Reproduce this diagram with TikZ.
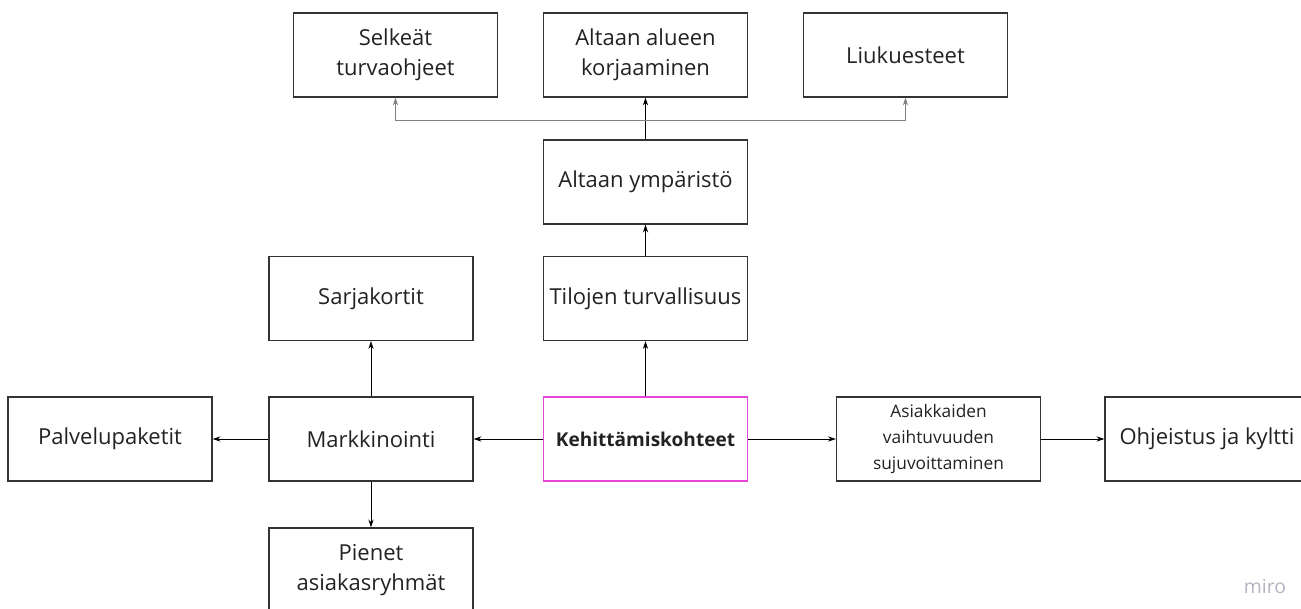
\documentclass[tikz,border=0pt]{standalone}
\usepackage{fontspec}
\setmainfont{Open Sans}
\usetikzlibrary{arrows.meta, positioning}
\definecolor{boxline}{HTML}{333333}
\definecolor{focusline}{HTML}{E645DC}
\definecolor{textgray}{HTML}{222222}
\definecolor{miromark}{HTML}{B4B4C0}

\begin{document}
\begin{tikzpicture}[
    x=0.75pt, y=-0.75pt,
    >={Stealth[length=6pt, width=4pt]},
    box/.style={draw=boxline, line width=0.9pt, minimum width=153pt,
      minimum height=63pt, align=center, text=textgray, inner sep=2pt,
      font=\fontsize{16.5}{22.5}\selectfont},
    link/.style={->, line width=0.6pt, draw=black}
  ]
  \useasboundingbox (0,0) rectangle (1301,609);
  \clip (0,0) rectangle (1301,609);

  % Top row
  \node[box] (selkeat) at (395.5,55) {Selkeät\\turvaohjeet};
  \node[box] (korjaus) at (645.5,55) {Altaan alueen\\korjaaminen};
  \node[box] (liuku) at (905.5,55) {Liukuesteet};

  % Safety branch
  \node[box] (ympar) at (645.5,182) {Altaan ympäristö};
  \node[box] (tilat) at (645.5,298.5) {Tilojen turvallisuus};

  % Marketing branch
  \node[box] (sarja) at (371,298.5) {Sarjakortit};
  \node[box] (markk) at (371,439) {Markkinointi};
  \node[box] (paketit) at (110,439) {Palvelupaketit};
  \node[box] (pienet) at (371,570) {Pienet\\asiakasryhmät};

  % Centre
  \node[box, draw=focusline, font=\fontsize{14.3}{17}\selectfont\bfseries] (kehitys) at (645.5,439) {Kehittämiskohteet};

  % Right branch
  \node[box, font=\fontsize{13}{19.5}\selectfont] (asiak) at (938.5,439) {Asiakkaiden\\vaihtuvuuden\\sujuvoittaminen};
  \node[box] (ohje) at (1207,439) {Ohjeistus ja kyltti};

  % Arrows
  \draw[link] (kehitys) -- (tilat);
  \draw[link] (tilat) -- (ympar);
  \draw[link] (ympar) -- (korjaus);
  \coordinate (split) at (645.5,120);
  \draw[link, draw=gray] (split) -| (selkeat);
  \draw[link, draw=gray] (split) -| (liuku);

  \draw[link] (kehitys) -- (markk);
  \draw[link] (markk) -- (paketit);
  \draw[link] (markk) -- (sarja);
  \draw[link] (markk) -- (pienet);
  \draw[link] (kehitys) -- (asiak);
  \draw[link] (asiak) -- (ohje);

  % Watermark
  \node[font=\fontsize{14.5}{16}\selectfont, text=miromark] (wm) at (1265,586) {miro};
\end{tikzpicture}
\end{document}
